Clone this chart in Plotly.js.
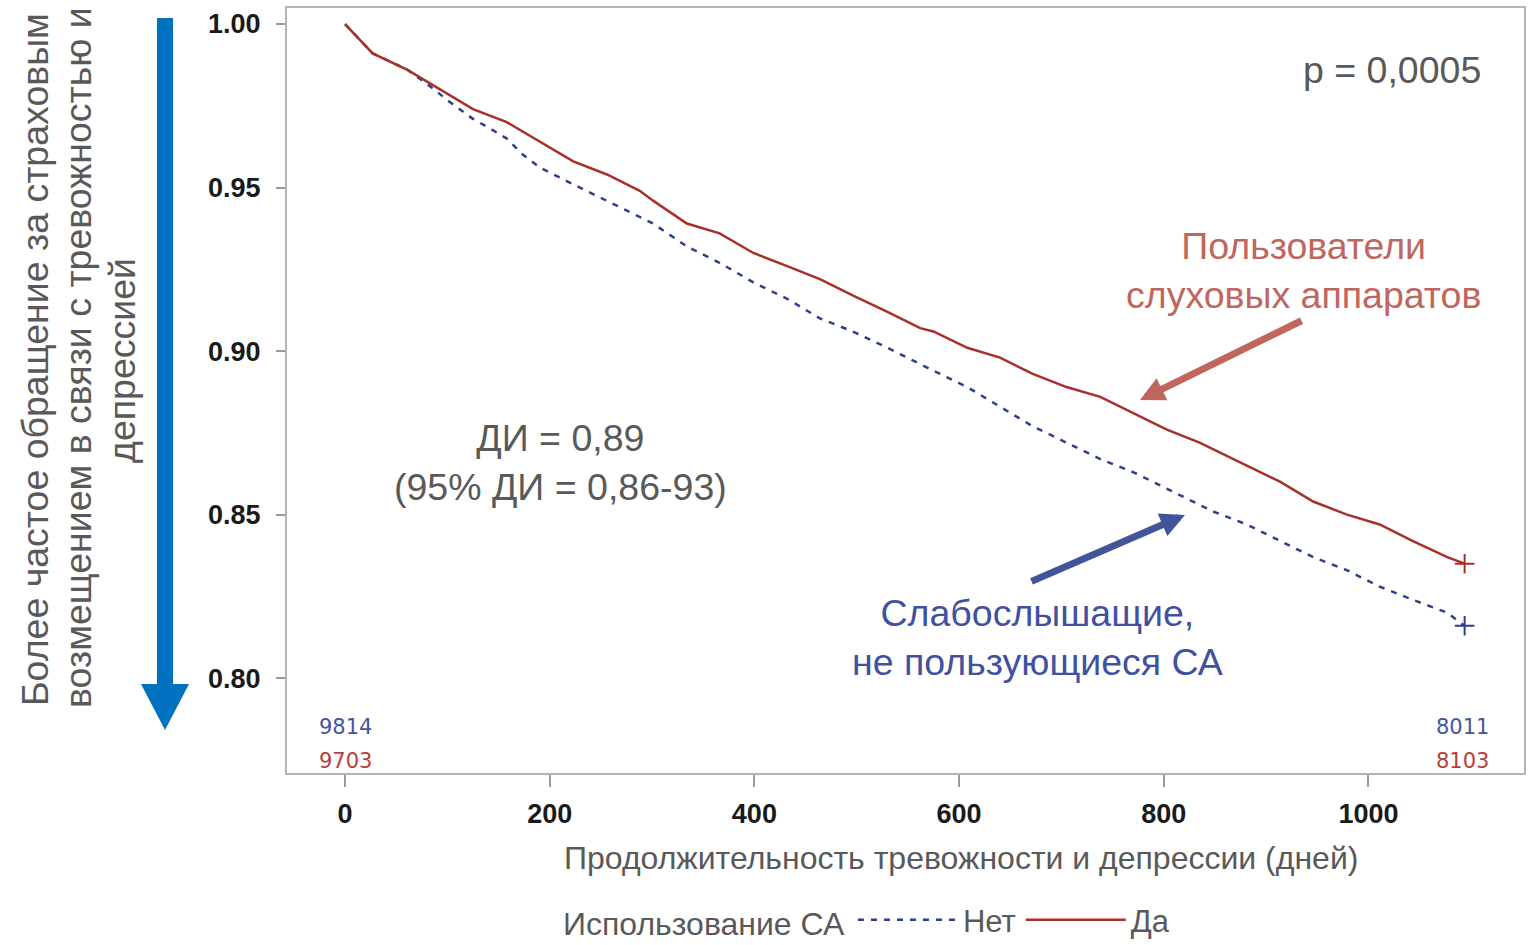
<!DOCTYPE html>
<html>
<head>
<meta charset="utf-8">
<script src="https://cdn.plot.ly/plotly-3.0.1.min.js"></script>
<style>html,body{margin:0;padding:0;background:#fff;}#chart{width:1534px;height:945px;}</style>
</head>
<body>
<div id="chart"></div>
<script>
// ---- data ----
const daysYes = [0, 27, 61, 93, 125, 158, 191, 223, 256, 288, 301, 334, 366, 399, 432, 464, 496, 530, 562, 575, 608, 640, 672, 705, 738, 770, 803, 835, 848, 881, 914, 946, 979, 1011, 1043, 1077, 1094];
const survYes = [1.000, 0.991, 0.986, 0.980, 0.974, 0.970, 0.964, 0.958, 0.954, 0.949, 0.946, 0.939, 0.936, 0.930, 0.926, 0.922, 0.917, 0.912, 0.907, 0.906, 0.901, 0.898, 0.893, 0.889, 0.886, 0.881, 0.876, 0.872, 0.870, 0.865, 0.860, 0.854, 0.850, 0.847, 0.842, 0.837, 0.835];

const daysNo = [0, 27, 61, 83, 103, 125, 142, 158, 174, 191, 223, 256, 288, 301, 334, 366, 399, 432, 464, 496, 530, 555, 575, 608, 640, 672, 705, 738, 770, 803, 829, 848, 881, 914, 946, 979, 1011, 1043, 1077, 1094];
const survNo = [1.000, 0.991, 0.986, 0.981, 0.976, 0.971, 0.968, 0.965, 0.960, 0.956, 0.951, 0.946, 0.941, 0.939, 0.932, 0.927, 0.921, 0.916, 0.910, 0.906, 0.901, 0.897, 0.894, 0.889, 0.883, 0.877, 0.872, 0.867, 0.863, 0.858, 0.854, 0.851, 0.847, 0.842, 0.837, 0.833, 0.828, 0.824, 0.820, 0.816];

const atRiskDays = [0, 1092];
const atRiskNo = [9814, 8011];
const atRiskYes = [9703, 8103];

const xTicks = [0, 200, 400, 600, 800, 1000];
const yTicks = [0.80, 0.85, 0.90, 0.95, 1.00];

const seriesNames = ['Нет', 'Да'];

// ---- layout helpers ----
const L = 287, T = 8, W = 1237, H = 765;
const pxX = x => (x - L) / W;
const pxY = y => (T + H - y) / H;

const RED = '#a8302a', BLUE = '#2e3f8e';
const GREY = '#595959';
const FONT = 'Liberation Sans, Arial, sans-serif';
const BIG = 37.5;

const traces = [
  {x: daysNo, y: survNo, type: 'scatter', mode: 'lines', name: seriesNames[0],
   line: {color: BLUE, width: 2.5, dash: '6px,7px'}},
  {x: daysYes, y: survYes, type: 'scatter', mode: 'lines', name: seriesNames[1],
   line: {color: RED, width: 2.5}},
  {x: [daysNo[daysNo.length-1]], y: [survNo[survNo.length-1]], type: 'scatter', mode: 'markers',
   showlegend: false, marker: {symbol: 'cross-thin', size: 14, line: {color: BLUE, width: 2}}},
  {x: [daysYes[daysYes.length-1]], y: [survYes[survYes.length-1]], type: 'scatter', mode: 'markers',
   showlegend: false, marker: {symbol: 'cross-thin', size: 14, line: {color: RED, width: 2}}}
];

const annotations = [];
atRiskDays.forEach((d, i) => {
  annotations.push({x: d, y: pxY(727), xref: 'x', yref: 'paper', xanchor: 'center', yanchor: 'middle',
    text: String(atRiskNo[i]), showarrow: false,
    font: {family: 'DejaVu Sans, sans-serif', size: 21, color: '#4455a0'}});
  annotations.push({x: d, y: pxY(761), xref: 'x', yref: 'paper', xanchor: 'center', yanchor: 'middle',
    text: String(atRiskYes[i]), showarrow: false,
    font: {family: 'DejaVu Sans, sans-serif', size: 21, color: '#b5413a'}});
});

const txt = (x, y, text, color, size, extra) => Object.assign({
  x: pxX(x), y: pxY(y), xref: 'paper', yref: 'paper', xanchor: 'center', yanchor: 'middle',
  text: text, showarrow: false, font: {family: FONT, size: size, color: color}}, extra || {});

annotations.push(
  txt(1392, 70, 'p = 0,0005', GREY, BIG),
  txt(560, 462, 'ДИ = 0,89<br>(95% ДИ = 0,86-93)', GREY, BIG),
  txt(1303, 270, 'Пользователи<br>слуховых аппаратов', '#c0665e', BIG),
  txt(1037, 637, 'Слабослышащие,<br>не пользующиеся СА', '#3f51a0', BIG),
  // x-axis title (offset to the right of the plot centre, as in the reference)
  txt(961, 858, 'Продолжительность тревожности и депрессии (дней)', GREY, 32),
  // pointer arrows
  {x: pxX(1140), y: pxY(400), xref: 'paper', yref: 'paper',
   ax: 1303 - 1140, ay: 320 - 400, text: '', showarrow: true, arrowhead: 2, arrowsize: 0.7,
   arrowwidth: 7, arrowcolor: '#c0665e'},
  {x: pxX(1185), y: pxY(515), xref: 'paper', yref: 'paper',
   ax: 1030 - 1185, ay: 582 - 515, text: '', showarrow: true, arrowhead: 2, arrowsize: 0.7,
   arrowwidth: 7, arrowcolor: '#43559a'},
  // left vertical label, one line each
  txt(35, 360, 'Более частое обращение за страховым', GREY, 37.5, {textangle: -90}),
  txt(78, 358, 'возмещением в связи с тревожностью и', GREY, 37.5, {textangle: -90}),
  txt(122, 360, 'депрессией', GREY, 37.5, {textangle: -90})
);

const shapes = [
  {type: 'path', xref: 'paper', yref: 'paper', fillcolor: '#0070c0', line: {width: 0},
   path: `M ${pxX(157)} ${pxY(18)} L ${pxX(173)} ${pxY(18)} L ${pxX(173)} ${pxY(684)} L ${pxX(189)} ${pxY(684)} L ${pxX(165)} ${pxY(730)} L ${pxX(141)} ${pxY(684)} L ${pxX(157)} ${pxY(684)} Z`}
];

const layout = {
  width: 1534, height: 945,
  margin: {l: L, r: 1534 - L - W, t: T, b: 945 - T - H, autoexpand: false},
  paper_bgcolor: '#fff', plot_bgcolor: '#fff',
  showlegend: true,
  legend: {orientation: 'h', x: pxX(868), xanchor: 'center', y: pxY(920), yanchor: 'middle',
    itemwidth: 100, font: {family: FONT, size: 31, color: GREY},
    title: {text: 'Использование СА', font: {family: FONT, size: 32, color: GREY}}},
  xaxis: {range: [-56.7, 1152], tickvals: xTicks, ticktext: xTicks.map(String),
    showgrid: false, zeroline: false, showline: true, mirror: true, linecolor: '#b4b4b4', linewidth: 2,
    ticks: 'outside', ticklen: 12, tickwidth: 2, tickcolor: '#9a9a9a', ticklabelstandoff: 4,
    tickfont: {family: FONT, size: 27, color: '#1a1a1a', weight: 'bold'}},
  yaxis: {range: [0.771, 1.0049], tickvals: yTicks, ticktext: yTicks.map(v => v.toFixed(2)),
    showgrid: false, zeroline: false, showline: true, mirror: true, linecolor: '#b4b4b4', linewidth: 2,
    ticks: 'outside', ticklen: 9, tickwidth: 2, tickcolor: '#9a9a9a', ticklabelstandoff: 10,
    tickfont: {family: FONT, size: 27, color: '#1a1a1a', weight: 'bold'}},
  annotations: annotations,
  shapes: shapes
};

Plotly.newPlot('chart', traces, layout, {displayModeBar: false, staticPlot: true});
</script>
</body>
</html>
